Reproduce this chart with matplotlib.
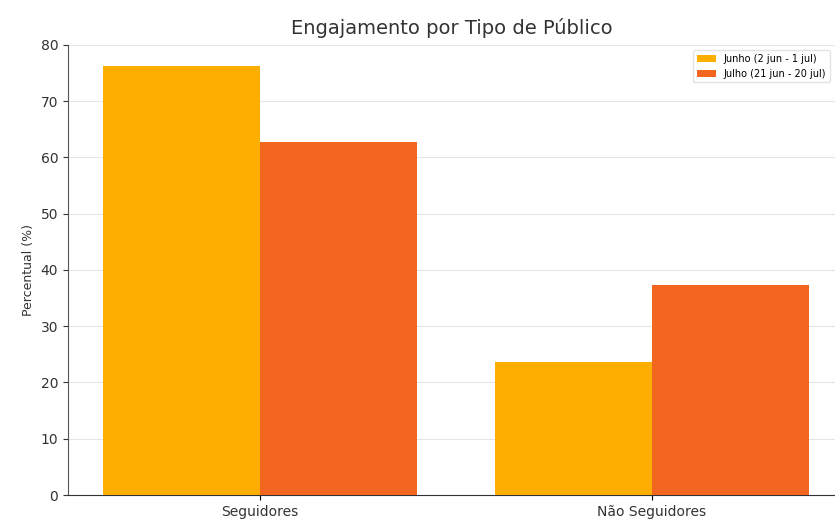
import matplotlib
matplotlib.use("Agg")
import matplotlib.pyplot as plt
import numpy as np

categories = ["Seguidores", "Não Seguidores"]
junho = [76.3, 23.7]
julho = [62.7, 37.3]
labels = ["Junho (2 jun - 1 jul)", "Julho (21 jun - 20 jul)"]
colors = ["#FDAE00", "#F2661F"]

fig = plt.figure(figsize=(8.35, 5.22), dpi=100)
ax = fig.add_axes([0.0814, 0.0517, 0.9186, 0.8623])
x = np.arange(len(categories))
w = 0.4
ax.bar(x - w/2, junho, w, color=colors[0], label=labels[0], zorder=3)
ax.bar(x + w/2, julho, w, color=colors[1], label=labels[1], zorder=3)
ax.set_xticks(x)
ax.set_xticklabels(categories, fontsize=10, color="#333333")
ax.set_ylim(0, 80)
ax.set_xlim(-0.49, 1.467)
ax.set_yticks(range(0, 81, 10))
ax.tick_params(axis='y', labelsize=10, colors="#333333")
ax.set_ylabel("Percentual (%)", fontsize=9, color="#333333")
ax.set_title("Engajamento por Tipo de Público", fontsize=14, color="#333333", pad=8)
ax.yaxis.grid(True, color="#e6e6e6", linewidth=0.8, zorder=0)
ax.spines['top'].set_visible(False)
ax.spines['right'].set_visible(False)
ax.spines['left'].set_color("#555555")
ax.spines['bottom'].set_color("#333333")
ax.legend(loc="upper right", fontsize=7, frameon=True, edgecolor="#dddddd")
fig.savefig("out.png", dpi=100)
